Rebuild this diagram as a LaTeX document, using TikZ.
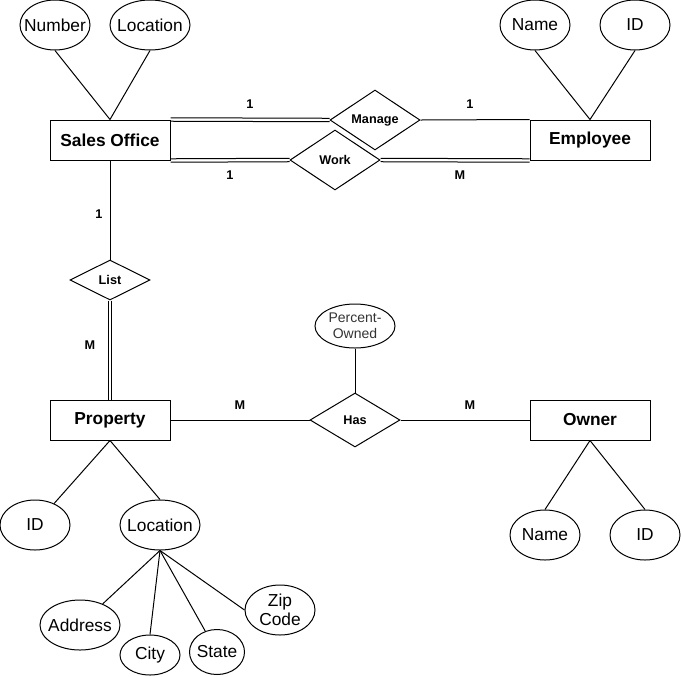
\documentclass[tikz,border=0pt]{standalone}
\usepackage{fontspec}
\setmainfont{Liberation Sans}
\usetikzlibrary{shapes.geometric}
\begin{document}
\begin{tikzpicture}[x=0.75pt,y=-0.75pt,
  every path/.style={line width=0.75pt},
  attr/.style 2 args={ellipse,draw,inner xsep=-25pt,inner ysep=-15pt,align=center,
    minimum width=0.75pt*#1,minimum height=0.75pt*#2,
    font=\fontsize{13}{14.5}\selectfont},
  entity/.style={rectangle,draw,inner sep=0pt,minimum width=90pt,minimum height=30pt,
    font=\fontsize{13}{15}\selectfont\bfseries},
  rel/.style 2 args={diamond,draw,inner sep=0pt,
    minimum width=0.75pt*#1,minimum height=0.75pt*#2,
    font=\fontsize{9.5}{11}\selectfont\bfseries},
  card/.style={font=\fontsize{9.5}{11}\selectfont\bfseries,inner sep=0pt},
  hup/.style={transform canvas={yshift=1.3pt}},
  hdn/.style={transform canvas={yshift=-1.3pt}},
  vl/.style={transform canvas={xshift=-1.3pt}},
  vr/.style={transform canvas={xshift=1.3pt}}]
\useasboundingbox (0,0) rectangle (681,676);

% entities
\node[entity] (so) at (110,140) {Sales Office};
\node[entity] (emp) at (590,140) {Employee};
\node[entity] (prop) at (110,420) {Property};
\node[entity] (own) at (590,420) {Owner};

% relationships
\node[rel={90}{60}] (man) at (375,120) {Manage};
\node[rel={90}{60}] (work) at (335,160) {Work};
\node[rel={80}{40}] (list) at (110,280) {List};
\node[rel={90}{54}] (has) at (355,420) {Has};

% attributes
\node[attr={70}{50}] (num) at (55,25) {Number};
\node[attr={80}{50}] (sloc) at (150,25) {Location};
\node[attr={70}{50}] (ename) at (535,25) {Name};
\node[attr={70}{50}] (eid) at (635,25) {ID};
\node[attr={80}{44},font=\fontsize{10.5}{12}\selectfont,text=black!80] (po) at (355,326) {Percent-\\Owned};
\node[attr={70}{50}] (pid) at (35,525) {ID};
\node[attr={80}{50}] (ploc) at (160,525) {Location};
\node[attr={70}{50}] (oname) at (545,535) {Name};
\node[attr={70}{50}] (oid) at (645,535) {ID};
\node[attr={80}{50}] (addr) at (80,625) {Address};
\node[attr={60}{40}] (city) at (150,655) {City};
\node[attr={55}{45}] (state) at (217,652) {State};
\node[attr={70}{50}] (zip) at (280,610) {Zip\\Code};

% attribute lines
\draw (num.south) -- (so.north);
\draw (sloc.south) -- (so.north);
\draw (ename.south) -- (emp.north);
\draw (eid.south) -- (emp.north);
\draw (pid) -- (prop.south);
\draw (ploc.north) -- (prop.south);
\draw (oname.north) -- (own.south);
\draw (oid.north) -- (own.south);
\draw (addr) -- (ploc.south);
\draw (city.north) -- (ploc.south);
\draw (state) -- (ploc.south);
\draw (zip.west) -- (ploc.south);
\draw (po.south) -- (has.north);

% relationship lines (double lines drawn as two strokes)
\draw[hup] (so.north east) -- (man.west);
\draw[hdn] (so.north east) -- (man.west);
\draw (man.east) -- (emp.north west);
\draw[hup] (so.south east) -- (work.west);
\draw[hdn] (so.south east) -- (work.west);
\draw[hup] (work.east) -- (emp.south west);
\draw[hdn] (work.east) -- (emp.south west);
\draw (so.south) -- (list.north);
\draw[vl] (list.south) -- (prop.north);
\draw[vr] (list.south) -- (prop.north);
\draw (prop.east) -- (has.west);
\draw (has.east) -- (own.west);

% cardinalities
\node[card] (c1) at (250,104) {1};
\node[card] (c2) at (470,104) {1};
\node[card] (c3) at (230,175) {1};
\node[card] (c4) at (460,175) {M};
\node[card] (c5) at (99,214) {1};
\node[card] (c6) at (90,345) {M};
\node[card] (c7) at (240,405) {M};
\node[card] (c8) at (470,405) {M};
\end{tikzpicture}
\end{document}
